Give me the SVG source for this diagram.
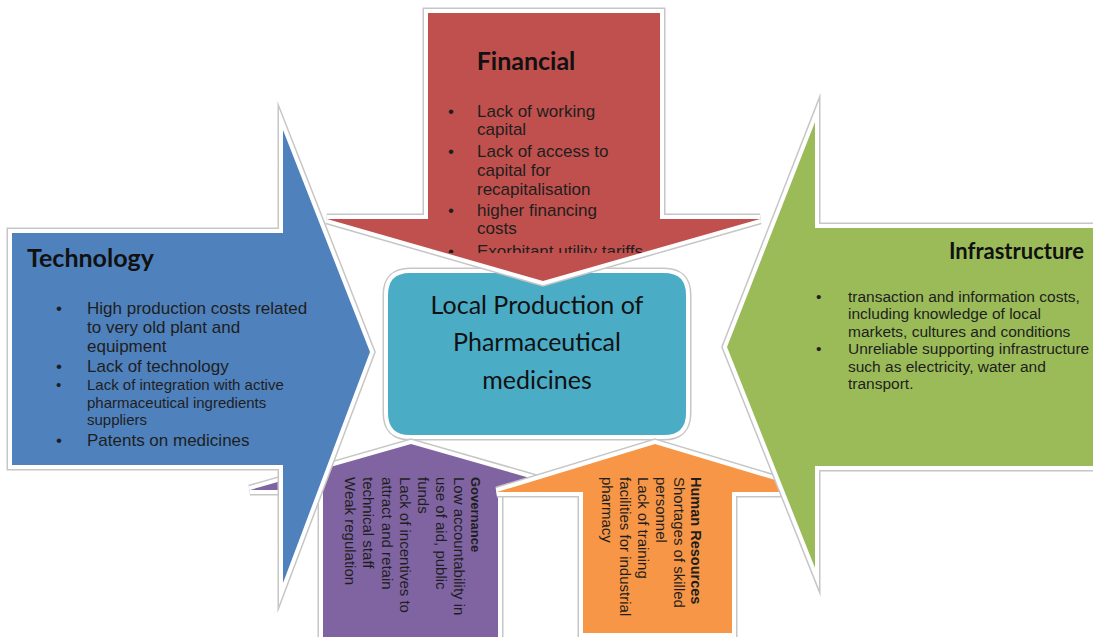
<svg xmlns="http://www.w3.org/2000/svg" xmlns:xlink="http://www.w3.org/1999/xlink" width="1093" height="637" viewBox="0 0 1093 637">
  <style>
    .rim { fill: none; stroke: #c6c6c6; stroke-width: 11; stroke-linejoin: miter; stroke-miterlimit: 6; }
    .body { stroke: #ffffff; stroke-width: 8; stroke-linejoin: miter; stroke-miterlimit: 6; paint-order: stroke fill; }
    .fin { fill: #c0504d; }
    .tech { fill: #4f81bd; }
    .infra { fill: #9bbb59; }
    .gov { fill: #8064a2; }
    .hr { fill: #f79646; }
    .core { fill: #4bacc6; }
    .title { font-family: Lato, "Liberation Sans", sans-serif; font-weight: bold; font-size: 25px; fill: #111; }
    .title.small { font-size: 22px; }
    .item { font-family: "Liberation Sans", Arial, sans-serif; fill: #1e1e1e; }
    .f17 { font-size: 17px; }
    .f15 { font-size: 15px; }
    .f155 { font-size: 15.5px; }
    .vbold { font-weight: bold; }
    .center { font-family: Lato, "Liberation Sans", sans-serif; font-size: 25px; fill: #111; text-anchor: middle; }
  </style>
  <defs>
    <path id="p-core" d="M410,273 H664 Q686,273 686,295 V413 Q686,435 664,435 H410 Q388,435 388,413 V295 Q388,273 410,273 Z"/>
    <path id="p-gov" d="M323,650 V490 H250 L411,444 L572,490 H498 V650 Z"/>
    <path id="p-hr" d="M583,633 V492 H497 L655,444 L815,492 H732 V633 Z"/>
    <path id="p-fin" d="M428,13 H660 V219 H760 L543,281 L327,219 H428 Z"/>
    <path id="p-tech" d="M12,233 H283 V130 L370,352 L283,583 V465 H12 Z"/>
    <path id="p-infra" d="M1110,228 H815 V122 L727,347 L815,568 V466 H1110 Z"/>
    <clipPath id="clip-fin">
      <rect x="430" y="40" width="230" height="213"/>
    </clipPath>
  </defs>

  <!-- the arrows have no separate connector lines; they point at the centre box themselves -->
  <g id="connectors"></g>

  <g id="core">
    <use xlink:href="#p-core" class="rim"/>
    <use xlink:href="#p-core" class="body core"/>
    <text class="center" x="537" y="314">Local Production of</text>
    <text class="center" x="537" y="351">Pharmaceutical</text>
    <text class="center" x="537" y="389">medicines</text>
  </g>

  <g id="governance">
    <use xlink:href="#p-gov" class="rim"/>
    <use xlink:href="#p-gov" class="body gov"/>
    <g transform="translate(471,477) rotate(90)">
      <text class="item vbold" font-size="13" x="0" y="0">Governance</text>
      <text class="item f15" x="0" y="17">Low accountability in</text>
      <text class="item f15" x="0" y="35">use of aid, public</text>
      <text class="item f15" x="0" y="53">funds</text>
      <text class="item f15" x="0" y="71">Lack of incentives to</text>
      <text class="item f15" x="0" y="89.5">attract and retain</text>
      <text class="item f15" x="0" y="108">technical staff</text>
      <text class="item f15" x="0" y="126">Weak regulation</text>
    </g>
  </g>

  <g id="human-resources">
    <use xlink:href="#p-hr" class="rim"/>
    <use xlink:href="#p-hr" class="body hr"/>
    <g transform="translate(691,477) rotate(90)">
      <text class="item vbold" font-size="14.5" x="0" y="0">Human Resources</text>
      <text class="item f15" x="0" y="17">Shortages of skilled</text>
      <text class="item f15" x="0" y="35">personnel</text>
      <text class="item f15" x="0" y="53">Lack of training</text>
      <text class="item f15" x="0" y="71">facilities for industrial</text>
      <text class="item f15" x="0" y="89">pharmacy</text>
    </g>
  </g>

  <g id="financial">
    <use xlink:href="#p-fin" class="rim"/>
    <use xlink:href="#p-fin" class="body fin"/>
    <text class="title" x="526" y="70" text-anchor="middle">Financial</text>
    <g clip-path="url(#clip-fin)">
      <text class="item f17" x="448" y="117">•</text>
      <text class="item f17" x="477" y="117">Lack of working</text>
      <text class="item f17" x="477" y="135">capital</text>
      <text class="item f17" x="448" y="157">•</text>
      <text class="item f17" x="477" y="157">Lack of access to</text>
      <text class="item f17" x="477" y="175.5">capital for</text>
      <text class="item f17" x="477" y="194.5">recapitalisation</text>
      <text class="item f17" x="448" y="215.5">•</text>
      <text class="item f17" x="477" y="215.5">higher financing</text>
      <text class="item f17" x="477" y="233.5">costs</text>
      <text class="item f17" x="448" y="257">•</text>
      <text class="item f17" x="477" y="257">Exorbitant utility tariffs</text>
    </g>
  </g>

  <g id="technology">
    <use xlink:href="#p-tech" class="rim"/>
    <use xlink:href="#p-tech" class="body tech"/>
    <text class="title" x="27" y="267">Technology</text>
    <text class="item f17" x="56" y="314">•</text>
    <text class="item f17" x="87" y="314">High production costs related</text>
    <text class="item f17" x="87" y="333">to very old plant and</text>
    <text class="item f17" x="87" y="352">equipment</text>
    <text class="item f17" x="56" y="372">•</text>
    <text class="item f17" x="87" y="372">Lack of technology</text>
    <text class="item f15" x="56" y="390">•</text>
    <text class="item f15" x="87" y="390">Lack of integration with active</text>
    <text class="item f15" x="87" y="407.5">pharmaceutical ingredients</text>
    <text class="item f15" x="87" y="425">suppliers</text>
    <text class="item f17" x="56" y="446">•</text>
    <text class="item f17" x="87" y="446">Patents on medicines</text>
  </g>

  <g id="infrastructure">
    <use xlink:href="#p-infra" class="rim"/>
    <use xlink:href="#p-infra" class="body infra"/>
    <text class="title small" x="1084" y="259" text-anchor="end">Infrastructure</text>
    <text class="item f155" x="816" y="301.5">•</text>
    <text class="item f155" x="848" y="301.5">transaction and information costs,</text>
    <text class="item f155" x="848" y="319">including knowledge of local</text>
    <text class="item f155" x="848" y="336.5">markets, cultures and conditions</text>
    <text class="item f155" x="816" y="354">•</text>
    <text class="item f155" x="848" y="354">Unreliable supporting infrastructure</text>
    <text class="item f155" x="848" y="371.5">such as electricity, water and</text>
    <text class="item f155" x="848" y="389">transport.</text>
  </g>
</svg>
